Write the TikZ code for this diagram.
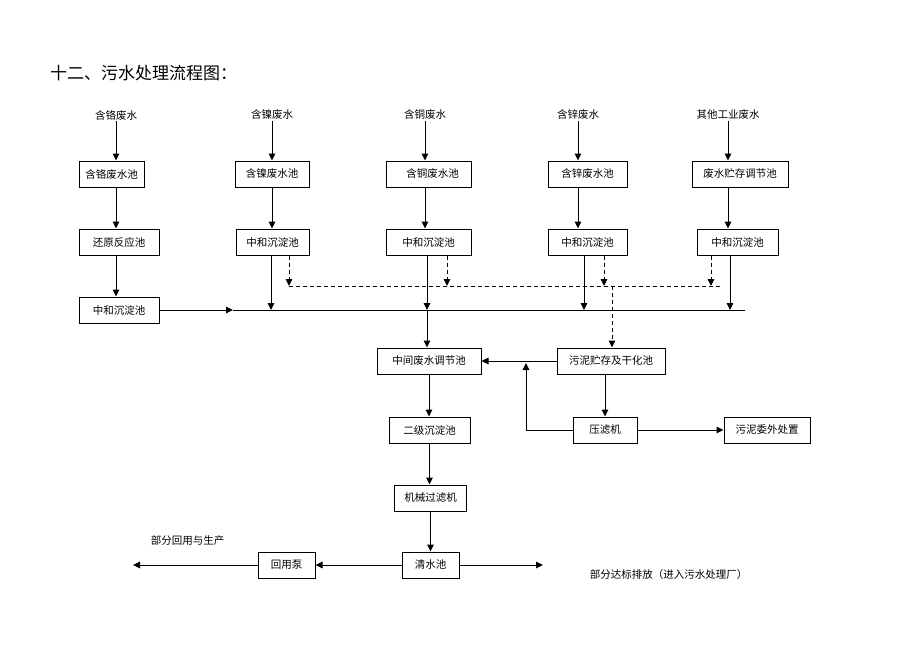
\documentclass[tikz,border=0pt]{standalone}
\usepackage{fontspec}
\newfontfamily\cjk{Noto Sans CJK SC}
\usetikzlibrary{arrows.meta,calc}
\begin{document}
\begin{tikzpicture}[x=1pt,y=-1pt,
  box/.style={draw,line width=1pt,minimum height=26pt,inner sep=0pt,font=\cjk\fontsize{10.5}{12}\selectfont},
  lbl/.style={inner sep=1pt,font=\cjk\fontsize{10.5}{12}\selectfont},
  arr/.style={line width=1pt,-{Triangle[length=7pt,width=6.5pt]}},
  ln/.style={line width=1pt},
  darr/.style={line width=1pt,dash pattern=on 4pt off 3pt,-{Triangle[length=7pt,width=6.5pt]}},
  dln/.style={line width=1pt,dash pattern=on 4pt off 3pt}]
\useasboundingbox (0,0) rectangle (920,651);
\fill[white] (0,0) rectangle (920,651);

\node[anchor=west,inner sep=0pt,font=\cjk\fontsize{17}{20}\selectfont] (title) at (50,73) {十二、污水处理流程图：};

% sources
\node[lbl] (src1) at (116,115) {含铬废水};
\node[lbl] (src2) at (272,115) {含镍废水};
\node[lbl] (src3) at (425,115) {含铜废水};
\node[lbl] (src4) at (578,115) {含锌废水};
\node[lbl] (src5) at (728,115) {其他工业废水};

% row 1
\node[box,minimum width=65pt] (b11) at (111.5,174) {含铬废水池};
\node[box,minimum width=74pt] (b12) at (272,174) {含镍废水池};
\node[box,minimum width=85pt] (b13) at (428.5,174) {\hspace{8pt}含铜废水池};
\node[box,minimum width=79pt] (b14) at (587.5,174) {含锌废水池};
\node[box,minimum width=96pt] (b15) at (740,174) {废水贮存调节池};

% row 2
\node[box,minimum width=80pt] (b21) at (119,242) {还原反应池};
\node[box,minimum width=73pt] (b22) at (272.5,242) {中和沉淀池};
\node[box,minimum width=85pt] (b23) at (428.5,242) {中和沉淀池};
\node[box,minimum width=79pt] (b24) at (587.5,242) {中和沉淀池};
\node[box,minimum width=81pt] (b25) at (737.5,242) {中和沉淀池};

% row 3
\node[box,minimum width=80pt] (b31) at (119,310) {中和沉淀池};

% line coordinates
\coordinate (mainL) at (233,310);
\coordinate (mainR) at (745,310);
\coordinate (dL) at (289,286);
\coordinate (dR) at (720,286);
\coordinate (dS) at (612,286);

% row 4
\node[box,minimum width=104pt] (b41) at (429,361) {中间废水调节池};
\node[box,minimum width=108pt] (b42) at (611,361) {污泥贮存及干化池};

% row 5
\node[box,minimum width=81pt] (b51) at (429.5,430) {二级沉淀池};
\node[box,minimum width=64pt] (b52) at (605,430) {压滤机};
\node[box,minimum width=86pt] (b53) at (767,430) {污泥委外处置};
\coordinate (ret) at (526,363);

% row 6, 7
\node[box,minimum width=72pt] (b61) at (430.5,498) {机械过滤机};
\node[box,minimum width=57pt] (b71) at (430.5,565) {清水池};
\node[box,minimum width=57pt] (b72) at (286.5,565) {回用泵};
\coordinate (outL) at (133,565);
\coordinate (outR) at (543,565);
\node[lbl] (t1) at (187.5,541) {部分回用与生产};
\node[lbl] (t2) at (668.5,574) {部分达标排放（进入污水处理厂）};

% source arrows
\foreach \i in {1,...,5} {
  \draw[arr] (src\i.south) -- (src\i.south |- b1\i.north);
  \draw[arr] (src\i |- b1\i.south) -- (src\i |- b2\i.north);
}
\draw[arr] (src1 |- b21.south) -- (src1 |- b31.north);

% main collecting line
\draw[arr] (b31.east) -- (mainL);
\draw[ln] (mainL) -- (mainR);
\draw[arr] ([xshift=-1.5pt]b22.south) -- ([xshift=-1.5pt]b22.south |- mainL);
\draw[arr] ([xshift=-1.5pt]b23.south) -- ([xshift=-1.5pt]b23.south |- mainL);
\draw[arr] ([xshift=-3.5pt]b24.south) -- ([xshift=-3.5pt]b24.south |- mainL);
\draw[arr] ([xshift=-7.5pt]b25.south) -- ([xshift=-7.5pt]b25.south |- mainL);

% sludge dashed line
\draw[dln] (dL) -- (dR);
\draw[darr] ([xshift=16.5pt]b22.south) -- ([xshift=16.5pt]b22.south |- dL);
\draw[darr] ([xshift=18.5pt]b23.south) -- ([xshift=18.5pt]b23.south |- dL);
\draw[darr] ([xshift=16.5pt]b24.south) -- ([xshift=16.5pt]b24.south |- dL);
\draw[darr] ([xshift=-26.5pt]b25.south) -- ([xshift=-26.5pt]b25.south |- dL);
\draw[darr] (dS) -- (dS |- b42.north);

% to middle tank
\draw[arr] ([xshift=-1.5pt]b23.south |- mainL) -- ([xshift=-1.5pt]b23.south |- b41.north);
\draw[arr] (b42.west) -- (b41.east);
\draw[arr] (b42.south -| b52) -- (b52.north);
\draw[arr] (b52.east) -- (b53.west);
\draw[arr] (b52.west) -| (ret);

% treatment line
\draw[arr] (b41.south) -- (b41.south |- b51.north);
\draw[arr] (b51.south) -- (b51.south |- b61.north);
\draw[arr] (b61.south) -- (b61.south |- b71.north);
\draw[arr] (b71.west) -- (b72.east);
\draw[arr] (b72.west) -- (outL);
\draw[arr] (b71.east) -- (outR);
\end{tikzpicture}
\end{document}
